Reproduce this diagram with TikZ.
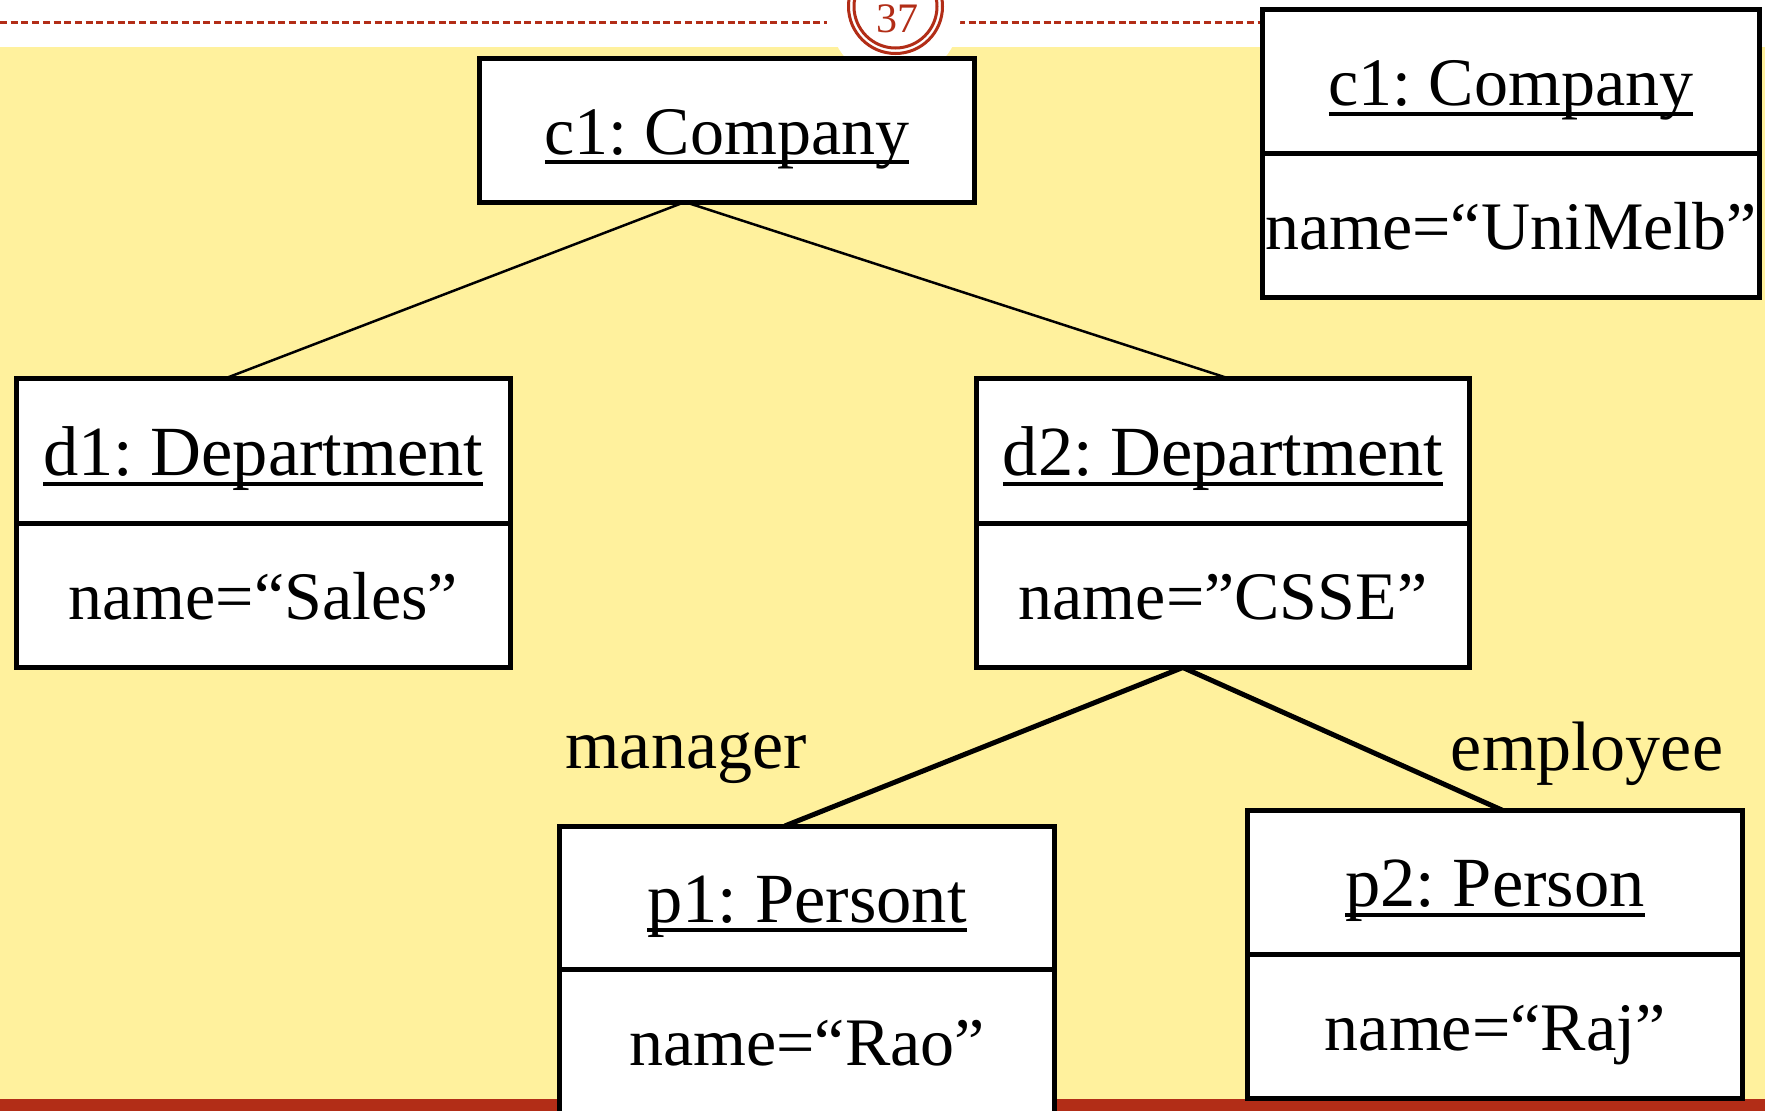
\documentclass[tikz,border=0pt]{standalone}
\usepackage{fontspec}
\setmainfont{Liberation Serif}
\usetikzlibrary{calc}
\definecolor{bgyellow}{RGB}{255,241,157}
\definecolor{pagered}{RGB}{178,45,23}
\frenchspacing
\newcommand\objul[1]{\setbox0\hbox{#1}\rlap{\rule[-10pt]{\wd0}{4pt}}\box0}
\newcommand\ctrtext[1]{\makebox[0pt][c]{#1}}
\pgfdeclarelayer{bglayer}
\pgfdeclarelayer{linklayer}
\pgfsetlayers{bglayer,linklayer,main}
\tikzset{
  objpart/.style={draw=black, line width=5pt, fill=white, inner sep=0pt, outer sep=0pt,
    text height=96pt, text depth=48pt, minimum height=144pt, font=\fontsize{68}{80}\selectfont},
  titlefont/.style={font=\fontsize{70.5}{80}\selectfont},
  uplink/.style={draw=black, line width=2.5pt},
  lowlink/.style={draw=black, line width=5pt},
  rolelabel/.style={font=\fontsize{70}{80}\selectfont, anchor=base, inner sep=0pt},
}
\begin{document}
\begin{tikzpicture}[x=1pt,y=-1pt]
\useasboundingbox (0,0) rectangle (1765,1111);
\clip (0,0) rectangle (1765,1111);

\begin{pgfonlayer}{bglayer}
  \fill[white] (0,0) rectangle (1765,1111);
  \fill[bgyellow] (0,47) rectangle (1765,1099);
  \fill[pagered] (0,1099) rectangle (1765,1111);
  \draw[pagered, line width=3pt, dash pattern=on 7pt off 3.7pt] (0,22) -- (827,22);
  \draw[pagered, line width=3pt, dash pattern=on 7pt off 3.7pt] (958,22) -- (1262,22);
  \fill[white] (895,15) circle (65.5);
  \draw[pagered, line width=3pt] (895.5,6.5) circle (47);
  \draw[pagered, line width=3pt] (895.5,6.5) circle (41.5);
\end{pgfonlayer}
\node[anchor=base, inner sep=0pt, text=pagered, font=\fontsize{42}{48}\selectfont] (pagenum) at (897,32) {37};

% main company
\node[objpart, anchor=north west, minimum width=495pt] (c1) at (479.5,58) {\ctrtext{\objul{c1: Company}}};

% right company
\node[objpart, anchor=north west, minimum width=497pt] (c1rt) at (1262.5,9.5) {\ctrtext{\objul{c1: Company}}};
\node[objpart, anchor=north, minimum width=497pt] (c1ra) at (c1rt.south) {\ctrtext{name=“UniMelb”}};

% departments
\node[objpart, titlefont, anchor=north west, minimum width=494.5pt, minimum height=145pt, text height=97pt] (d1t) at (16,378.5) {\ctrtext{\objul{d1: Department}}};
\node[objpart, anchor=north, minimum width=494.5pt] (d1a) at (d1t.south) {\ctrtext{name=“Sales”}};

\node[objpart, titlefont, anchor=north west, minimum width=493pt, minimum height=145pt, text height=97pt] (d2t) at (976.5,378.5) {\ctrtext{\objul{d2: Department}}};
\node[objpart, anchor=north, minimum width=493pt] (d2a) at (d2t.south) {\ctrtext{name=”CSSE”}};

% persons
\node[objpart, titlefont, anchor=north west, minimum width=495pt, minimum height=143pt, text height=96pt, text depth=47pt] (p1t) at (559.5,826) {\ctrtext{\objul{p1: Persont}}};
\node[objpart, anchor=north, minimum width=495pt, minimum height=145pt, text depth=49pt] (p1a) at (p1t.south) {\ctrtext{name=“Rao”}};

\node[objpart, titlefont, anchor=north west, minimum width=495pt] (p2t) at (1247.5,810.5) {\ctrtext{\objul{p2: Person}}};
\node[objpart, anchor=north, minimum width=495pt] (p2a) at (p2t.south) {\ctrtext{name=“Raj”}};

% role labels
\node[rolelabel] (mgr) at (686,768) {manager};
\node[rolelabel] (emp) at (1587,770) {employee};

\begin{pgfonlayer}{linklayer}
  \draw[uplink] ($(c1.south west)!0.415!(c1.south east)$) -- ($(d1t.north west)!0.4227!(d1t.north east)$);
  \draw[uplink] ($(c1.south west)!0.415!(c1.south east)$) -- ($(d2t.north west)!0.512!(d2t.north east)$);
  \draw[lowlink] ($(d2a.south west)!0.4185!(d2a.south east)$) -- ($(p1t.north west)!0.455!(p1t.north east)$);
  \draw[lowlink] ($(d2a.south west)!0.4185!(d2a.south east)$) -- ($(p2t.north west)!0.516!(p2t.north east)$);
\end{pgfonlayer}
\end{tikzpicture}
\end{document}
